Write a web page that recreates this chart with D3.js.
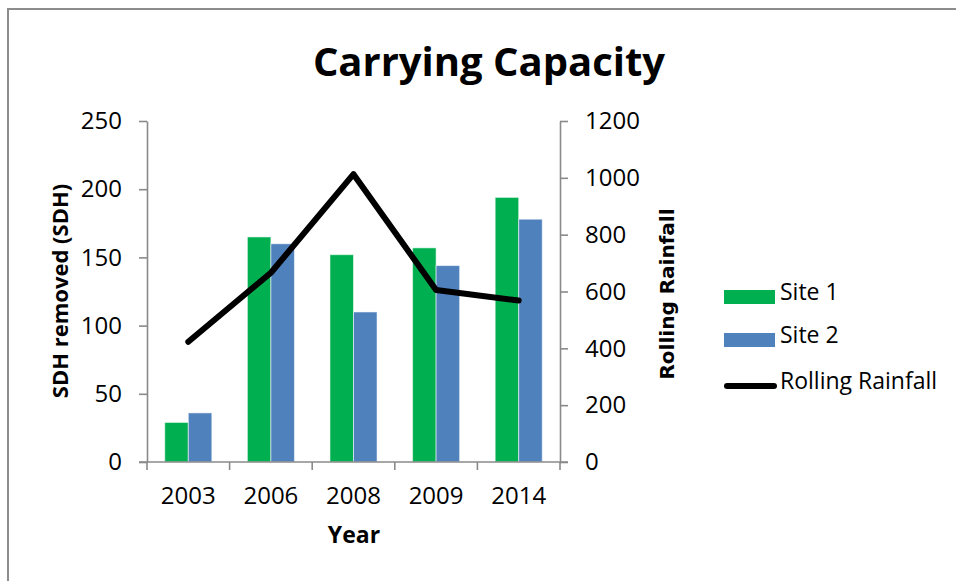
<!DOCTYPE html>
<html>
<head>
<meta charset="utf-8">
<script src="https://cdn.jsdelivr.net/npm/d3@7"></script>
<style>
  html, body { margin: 0; padding: 0; background: #fff; }
  svg { display: block; }
  text { font-family: "Open Sans", sans-serif; fill: #000; }
</style>
</head>
<body>
<svg id="chart" width="956" height="581"></svg>
<script>
// ---- data ----
const years = ["2003", "2006", "2008", "2009", "2014"];
const seriesNames = ["Site 1", "Site 2"];
const site1 = [29, 165, 152, 157, 194];
const site2 = [36, 160, 110, 144, 178];
const rollingRainfall = [423, 666, 1013, 605, 568];
const leftTicks = [0, 50, 100, 150, 200, 250];
const rightTicks = [0, 200, 400, 600, 800, 1000, 1200];
const lineName = "Rolling Rainfall";
const colors = { "Site 1": "#00B050", "Site 2": "#4F81BD" };

const svg = d3.select("#chart");
const axisColor = "#8a8a8a";

// outer chart border (only top and left visible)
svg.append("rect")
  .attr("x", 8).attr("y", 9).attr("width", 980).attr("height", 600)
  .attr("fill", "none").attr("stroke", "#8c8c8c").attr("stroke-width", 2);

const plot = { left: 147, right: 560, top: 121, bottom: 462 };

const x0 = d3.scaleBand().domain(years).range([plot.left, plot.right]).padding(0);
const step = x0.bandwidth();
const x1 = d3.scaleBand().domain(seriesNames).range([step * 0.215, step * 0.785]).padding(0);
const yL = d3.scaleLinear().domain([0, 250]).range([plot.bottom, plot.top]);
const yR = d3.scaleLinear().domain([0, 1200]).range([plot.bottom, plot.top]);

// title
svg.append("text")
  .attr("x", 489).attr("y", 76)
  .attr("text-anchor", "middle")
  .style("font-size", "40px").style("font-weight", "bold")
  .text("Carrying Capacity");

// bars
const rows = years.map((y, i) => ({ year: y, values: [
  { name: "Site 1", v: site1[i] }, { name: "Site 2", v: site2[i] } ] }));

const g = svg.append("g");
g.selectAll("g.cat").data(rows).join("g")
  .attr("class", "cat")
  .attr("transform", d => `translate(${x0(d.year)},0)`)
  .selectAll("rect").data(d => d.values).join("rect")
  .attr("x", d => x1(d.name))
  .attr("width", x1.bandwidth())
  .attr("y", d => yL(d.v))
  .attr("height", d => yL(0) - yL(d.v))
  .attr("fill", d => colors[d.name])
  .attr("stroke", "rgba(255,255,255,0.55)")
  .attr("stroke-width", 1);

// axes
function styleAxis(sel) {
  sel.select(".domain").attr("stroke", axisColor).attr("stroke-width", 1.6);
  sel.selectAll(".tick line").attr("stroke", axisColor).attr("stroke-width", 1.6);
  sel.selectAll(".tick text").style("font-size", "24px").style("font-family", "'Open Sans', sans-serif").attr("fill", "#000");
}

const axL = svg.append("g").attr("transform", `translate(${plot.left},0)`)
  .call(d3.axisLeft(yL).tickValues(leftTicks).tickFormat(d3.format("d"))
    .tickSize(8).tickSizeOuter(0).tickPadding(17));
styleAxis(axL);

const axR = svg.append("g").attr("transform", `translate(${plot.right},0)`)
  .call(d3.axisRight(yR).tickValues(rightTicks).tickFormat(d3.format("d"))
    .tickSize(8).tickSizeOuter(0).tickPadding(17));
styleAxis(axR);

// x axis: ticks at band boundaries
const axX = svg.append("g").attr("transform", `translate(0,${plot.bottom})`);
axX.append("line").attr("x1", plot.left - 8).attr("x2", plot.right + 8)
  .attr("y1", 0).attr("y2", 0).attr("stroke", axisColor).attr("stroke-width", 1.6);
const bounds = years.map(y => x0(y)).concat([x0(years[years.length - 1]) + step]);
axX.selectAll("line.tk").data(bounds).join("line").attr("class", "tk")
  .attr("x1", d => d).attr("x2", d => d).attr("y1", 0).attr("y2", 8)
  .attr("stroke", axisColor).attr("stroke-width", 1.6);
axX.selectAll("text").data(years).join("text")
  .attr("x", d => x0(d) + step / 2).attr("y", 42)
  .attr("text-anchor", "middle").style("font-size", "24px")
  .text(d => d);

// rolling rainfall line
const line = d3.line().x((d, i) => x0(years[i]) + step / 2).y(d => yR(d));
svg.append("path").datum(rollingRainfall)
  .attr("d", line).attr("fill", "none").attr("stroke", "#000")
  .attr("stroke-width", 6).attr("stroke-linecap", "round").attr("stroke-linejoin", "round");

// axis titles
svg.append("text")
  .attr("transform", "translate(68,291) rotate(-90)")
  .attr("text-anchor", "middle")
  .style("font-size", "22px").style("font-weight", "bold")
  .text("SDH removed (SDH)");

svg.append("text")
  .attr("transform", "translate(674,294) rotate(-90)")
  .attr("text-anchor", "middle")
  .style("font-size", "20px").style("font-weight", "bold")
  .style("font-family", "'DejaVu Sans', sans-serif")
  .text("Rolling Rainfall");

svg.append("text")
  .attr("x", 354).attr("y", 543)
  .attr("text-anchor", "middle")
  .style("font-size", "23px").style("font-weight", "bold")
  .text("Year");

// legend
const legend = svg.append("g");
const legendItems = [
  { name: "Site 1", type: "rect", cy: 297 },
  { name: "Site 2", type: "rect", cy: 340 },
  { name: lineName, type: "line", cy: 386 }
];
legendItems.forEach(it => {
  if (it.type === "rect") {
    legend.append("rect").attr("x", 724).attr("y", it.cy - 7)
      .attr("width", 51).attr("height", 14).attr("fill", colors[it.name]);
  } else {
    legend.append("line").attr("x1", 727).attr("x2", 774)
      .attr("y1", it.cy).attr("y2", it.cy)
      .attr("stroke", "#000").attr("stroke-width", 6).attr("stroke-linecap", "round");
  }
  legend.append("text").attr("x", 780).attr("y", it.cy + 3)
    .style("font-size", "23px").text(it.name);
});
</script>
</body>
</html>
